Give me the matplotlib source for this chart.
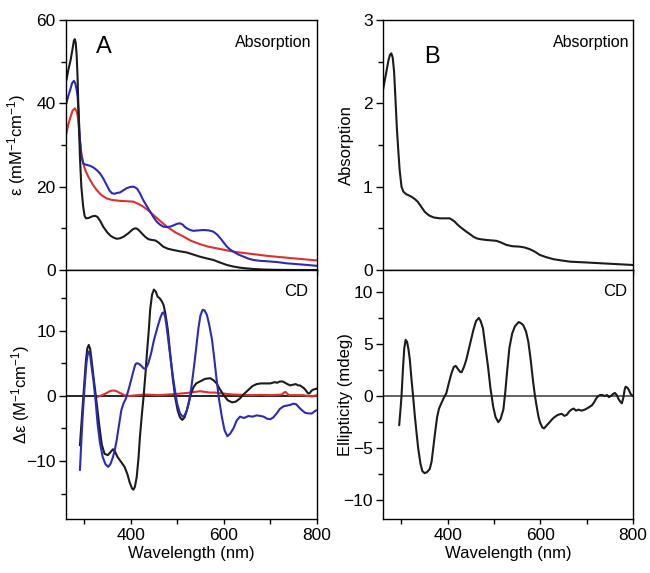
import numpy as np
import matplotlib.pyplot as plt
from matplotlib.ticker import MultipleLocator, FixedLocator

plt.rcParams['font.family'] = ['Liberation Sans', 'DejaVu Sans']
plt.rcParams['mathtext.default'] = 'regular'

# --- Panel A, absorption (epsilon, mM-1 cm-1) ---
wl_abs_black = [262, 266, 271, 275, 278, 280, 282, 284, 286, 288,
                291, 294, 298, 301, 304, 310, 318, 324, 329, 335,
                341, 350, 357, 363, 370, 377, 385, 395, 405, 410,
                414, 419, 424, 431, 438, 446, 453, 460, 470, 480,
                492, 505, 521, 535, 549, 563, 578, 592, 607, 620,
                635, 650, 664, 685, 707, 750, 800]
eps_black = [45.6, 48.0, 50.4, 53.0, 55.0, 55.4, 54.5, 51.5, 46.0, 38.0,
             27.2, 20.0, 15.2, 13.0, 12.4, 12.5, 12.9, 13.0, 12.7, 11.7,
             10.4, 9.0, 8.2, 7.8, 7.5, 7.6, 8.0, 8.8, 9.8, 10.0,
             9.9, 9.4, 8.8, 8.0, 7.4, 7.2, 7.1, 6.6, 5.6, 5.1,
             4.8, 4.5, 4.2, 3.7, 3.2, 2.8, 2.4, 1.8, 1.2, 0.85,
             0.56, 0.38, 0.24, 0.12, 0.05, 0.0, 0.0]

wl_abs_blue = [262, 266, 270, 274, 278, 281, 284, 286, 288, 291,
               294, 298, 303, 313, 320, 327, 334, 341, 348, 355,
               360, 366, 371, 377, 384, 391, 398, 406, 410, 414,
               420, 427, 435, 442, 449, 456, 463, 470, 478, 485,
               492, 500, 506, 512, 516, 521, 528, 535, 545, 557,
               568, 578, 586, 593, 600, 607, 614, 621, 632, 643,
               654, 664, 678, 693, 715, 736, 770, 800]
eps_blue = [40.0, 41.8, 43.2, 44.8, 45.4, 44.8, 43.2, 41.6, 38.0, 31.2,
            27.5, 25.6, 25.3, 25.0, 24.6, 24.0, 23.2, 22.0, 20.5, 19.0,
            18.4, 18.3, 18.5, 18.6, 19.1, 19.6, 19.9, 20.0, 19.8, 19.5,
            18.4, 16.8, 15.3, 14.0, 12.7, 11.6, 10.9, 10.4, 10.3, 10.4,
            10.7, 11.1, 11.2, 10.9, 10.4, 10.0, 9.6, 9.4, 9.5, 9.6,
            9.5, 9.2, 8.5, 7.6, 6.6, 5.6, 4.9, 4.4, 3.7, 3.2,
            2.7, 2.4, 2.2, 2.1, 1.9, 1.6, 1.3, 1.0]

wl_abs_red = [262, 266, 271, 275, 280, 283, 286, 288, 291, 294,
              298, 303, 309, 318, 327, 337, 348, 360, 377, 392,
              406, 416, 427, 438, 449, 463, 478, 495, 514, 530,
              549, 567, 585, 603, 621, 657, 693, 750, 800]
eps_red = [32.8, 35.0, 36.8, 38.2, 38.8, 38.3, 37.2, 35.0, 31.2, 28.0,
           25.6, 23.8, 22.4, 20.6, 19.2, 18.0, 17.2, 16.8, 16.6, 16.5,
           16.4, 15.9, 15.2, 14.3, 13.2, 11.8, 10.4, 9.1, 8.0, 7.0,
           6.2, 5.6, 5.2, 4.8, 4.4, 3.9, 3.4, 2.8, 2.3]

# --- Panel A, CD (delta epsilon, M-1 cm-1) ---
wl_cd_black = [291, 295, 300, 304, 307, 310, 313, 316, 320, 326,
               333, 338, 344, 351, 356, 362, 366, 372, 380, 387,
               393, 398, 403, 406, 409, 413, 417, 420, 424, 428,
               432, 435, 439, 442, 446, 450, 454, 458, 462, 467,
               471, 475, 480, 485, 491, 496, 501, 506, 511, 516,
               521, 526, 530, 535, 541, 549, 560, 571, 578, 585,
               592, 600, 609, 618, 626, 635, 644, 653, 662, 671,
               680, 693, 700, 710, 715, 721, 727, 732, 737, 743,
               749, 755, 760, 764, 768, 772, 776, 779, 782, 785,
               788, 791, 795, 800]
cd_black = [-7.6, -3.5, 1.5, 5.5, 7.3, 7.8, 7.2, 5.5, 3.0, -0.5,
            -4.8, -7.5, -8.9, -9.1, -8.7, -8.2, -8.5, -9.4, -10.2, -10.9,
            -12.0, -13.3, -14.2, -14.4, -14.0, -12.5, -9.5, -6.3, -3.0, 0.0,
            3.5, 6.5, 10.0, 13.2, 15.5, 16.3, 16.0, 15.2, 15.0, 14.5,
            13.9, 12.5, 10.1, 6.5, 2.4, -0.3, -2.2, -3.3, -3.7, -3.3,
            -2.2, -0.7, 0.4, 1.3, 1.9, 2.2, 2.6, 2.7, 2.4, 1.9,
            1.0, 0.1, -0.7, -1.0, -0.9, -0.4, 0.3, 0.9, 1.5, 1.8,
            1.9, 1.9, 1.9, 2.1, 2.0, 2.2, 2.2, 2.0, 1.8, 1.6,
            1.7, 1.8, 1.6, 1.6, 1.4, 1.2, 0.9, 0.6, 0.35, 0.4,
            0.7, 0.9, 1.0, 1.1]

wl_cd_blue = [291, 294, 297, 301, 305, 308, 310, 313, 316, 320,
              325, 329, 334, 340, 346, 352, 357, 362, 366, 370,
              375, 380, 385, 390, 395, 401, 406, 410, 413, 418,
              423, 428, 433, 438, 444, 450, 458, 464, 468, 471,
              474, 477, 480, 485, 491, 496, 500, 506, 512, 516,
              521, 526, 530, 534, 538, 542, 546, 550, 555, 559,
              564, 569, 575, 580, 585, 590, 596, 602, 608, 614,
              621, 628, 635, 644, 653, 662, 671, 680, 686, 693,
              700, 707, 714, 721, 729, 736, 743, 750, 756, 761,
              768, 775, 782, 790, 795, 800]
cd_blue = [-11.4, -7.0, -3.0, 1.4, 5.0, 6.6, 6.8, 6.2, 4.5, 2.4,
           -1.0, -4.3, -7.2, -9.4, -10.5, -10.9, -10.4, -9.4, -8.3, -6.8,
           -4.5, -2.2, -1.1, -0.4, 0.8, 2.4, 3.8, 4.8, 5.0, 4.9,
           4.6, 4.2, 4.2, 5.0, 6.5, 8.5, 10.6, 12.0, 12.7, 12.8,
           12.2, 10.8, 9.1, 6.2, 2.9, 0.5, -1.2, -2.7, -3.2, -3.0,
           -2.2, -0.8, 1.0, 3.2, 5.5, 8.0, 10.5, 12.3, 13.2, 13.1,
           12.4, 10.9, 8.6, 5.6, 2.4, -0.5, -3.2, -5.3, -6.2, -5.8,
           -5.0, -3.8, -3.2, -3.4, -3.1, -3.2, -3.0, -3.1, -3.2, -3.5,
           -3.6, -3.3, -2.7, -2.0, -1.6, -1.5, -1.4, -1.2, -1.3, -1.7,
           -2.2, -2.6, -2.7, -2.7, -2.4, -2.2]

wl_cd_red = [326, 331, 335, 340, 345, 350, 355, 360, 365, 370,
             375, 381, 387, 393, 400, 415, 430, 445, 460, 480,
             500, 515, 528, 538, 549, 560, 570, 581, 592, 606,
             620, 640, 660, 680, 700, 715, 725, 730, 733, 736,
             740, 755, 770, 780, 790, 795, 800]
cd_red = [-0.2, -0.1, 0.0, 0.15, 0.3, 0.5, 0.7, 0.8, 0.8, 0.7,
          0.5, 0.3, 0.1, 0.0, 0.0, 0.1, 0.2, 0.15, 0.1, 0.2,
          0.3, 0.4, 0.5, 0.6, 0.7, 0.6, 0.5, 0.5, 0.4, 0.3,
          0.2, 0.15, 0.1, 0.15, 0.1, 0.15, 0.2, 0.5, 0.6, 0.4,
          0.1, 0.1, 0.1, 0.0, -0.1, 0.0, 0.1]

# --- Panel B, absorption ---
wl_b_abs = [260, 264, 268, 272, 275, 278, 281, 284, 287, 290,
            293, 296, 300, 304, 310, 318, 324, 329, 335, 340,
            345, 350, 356, 361, 370, 383, 395, 404, 410, 415,
            420, 426, 433, 440, 448, 455, 462, 470, 484, 495,
            505, 515, 527, 540, 556, 566, 577, 588, 599, 612,
            628, 645, 664, 700, 750, 800]
absorb_b = [2.16, 2.28, 2.40, 2.52, 2.58, 2.60, 2.55, 2.38, 2.05, 1.70,
            1.44, 1.20, 1.00, 0.94, 0.91, 0.89, 0.87, 0.85, 0.82, 0.78,
            0.74, 0.70, 0.67, 0.65, 0.63, 0.62, 0.62, 0.62, 0.60, 0.58,
            0.55, 0.52, 0.49, 0.46, 0.43, 0.40, 0.38, 0.37, 0.36, 0.355,
            0.35, 0.33, 0.30, 0.285, 0.28, 0.27, 0.25, 0.22, 0.18, 0.155,
            0.13, 0.115, 0.10, 0.09, 0.075, 0.06]

# --- Panel B, CD (ellipticity, mdeg) ---
wl_b_cd = [295, 298, 300, 303, 306, 309, 312, 315, 318, 321,
           325, 329, 332, 336, 341, 345, 350, 355, 361, 365,
           368, 372, 377, 381, 386, 391, 397, 402, 408, 413,
           417, 422, 427, 430, 435, 440, 447, 455, 461, 467,
           471, 476, 481, 487, 492, 498, 503, 509, 514, 520,
           524, 528, 533, 539, 545, 553, 558, 563, 569, 574,
           579, 584, 588, 592, 596, 599, 604, 608, 614, 620,
           626, 631, 638, 646, 652, 657, 662, 667, 672, 677,
           682, 689, 696, 704, 711, 716, 721, 725, 729, 734,
           739, 744, 748, 752, 757, 761, 765, 769, 772, 776,
           779, 782, 784, 788, 791, 795, 800]
ellip_b = [-2.8, -1.2, 0.0, 2.5, 4.6, 5.4, 5.2, 4.5, 3.5, 1.9,
           0.0, -2.0, -3.3, -5.0, -6.5, -7.2, -7.4, -7.3, -7.0, -6.3,
           -5.2, -3.7, -2.0, -1.2, -0.7, -0.2, 0.3, 1.2, 2.2, 2.8,
           2.9, 2.6, 2.3, 2.3, 2.8, 3.5, 4.8, 6.3, 7.2, 7.5,
           7.2, 6.5, 4.8, 2.8, 0.8, -1.0, -2.0, -2.5, -2.2, -1.3,
           0.3, 2.3, 4.6, 6.0, 6.7, 7.1, 7.0, 6.8, 6.2, 5.2,
           3.5, 1.5, 0.1, -1.0, -2.0, -2.5, -3.0, -3.1, -2.8, -2.5,
           -2.2, -2.0, -1.8, -1.7, -1.9, -1.8, -1.5, -1.3, -1.2, -1.4,
           -1.3, -1.4, -1.3, -1.1, -0.9, -0.6, -0.2, 0.0, 0.1, 0.1,
           0.0, 0.1, -0.1, 0.0, 0.2, 0.3, 0.1, -0.3, -0.5, -0.7,
           -0.2, 0.6, 0.9, 0.8, 0.6, 0.2, 0.0]

c_black = '#1c1c1c'
c_blue = '#2b2bb8'
c_red = '#e0302c'
lw = 1.5

fig = plt.figure(figsize=(6.5, 5.73), dpi=100)
ax_a_abs = fig.add_axes([0.1015, 0.5288, 0.3857, 0.4363])
ax_a_cd = fig.add_axes([0.1015, 0.0942, 0.3857, 0.4346])
ax_b_abs = fig.add_axes([0.5892, 0.5288, 0.3846, 0.4363])
ax_b_cd = fig.add_axes([0.5892, 0.0942, 0.3846, 0.4346])

line_kw = dict(lw=lw, solid_joinstyle='round', solid_capstyle='round')

# Panel A
ax_a_abs.plot(wl_abs_red, eps_red, color=c_red, **line_kw)
ax_a_abs.plot(wl_abs_blue, eps_blue, color=c_blue, **line_kw)
ax_a_abs.plot(wl_abs_black, eps_black, color=c_black, **line_kw)
ax_a_abs.set_ylim(0, 60)
ax_a_abs.yaxis.set_major_locator(MultipleLocator(20))
ax_a_abs.yaxis.set_minor_locator(MultipleLocator(10))
ax_a_abs.set_ylabel(r'$\epsilon$ (mM$^{-1}$cm$^{-1}$)', fontsize=12)
ax_a_abs.yaxis.set_label_coords(-0.152, 0.5)

ax_a_cd.axhline(0, color='k', lw=1.2)
ax_a_cd.plot(wl_cd_red, cd_red, color=c_red, **line_kw)
ax_a_cd.plot(wl_cd_black, cd_black, color=c_black, **line_kw)
ax_a_cd.plot(wl_cd_blue, cd_blue, color=c_blue, **line_kw)
ax_a_cd.set_ylim(-18.9, 19.3)
ax_a_cd.yaxis.set_major_locator(MultipleLocator(10))
ax_a_cd.yaxis.set_minor_locator(MultipleLocator(5))
ax_a_cd.set_ylabel(r'$\Delta\epsilon$ (M$^{-1}$cm$^{-1}$)', fontsize=12)
ax_a_cd.yaxis.set_label_coords(-0.135, 0.5)

# Panel B
ax_b_abs.plot(wl_b_abs, absorb_b, color=c_black, **line_kw)
ax_b_abs.set_ylim(0, 3)
ax_b_abs.yaxis.set_major_locator(MultipleLocator(1))
ax_b_abs.yaxis.set_minor_locator(MultipleLocator(0.5))
ax_b_abs.set_ylabel('Absorption', fontsize=12)
ax_b_abs.yaxis.set_label_coords(-0.115, 0.5)

ax_b_cd.axhline(0, color='#555555', lw=1.3)
ax_b_cd.plot(wl_b_cd, ellip_b, color=c_black, **line_kw)
ax_b_cd.set_ylim(-11.8, 12.1)
ax_b_cd.yaxis.set_major_locator(MultipleLocator(5))
ax_b_cd.yaxis.set_minor_locator(MultipleLocator(2.5))
ax_b_cd.set_ylabel('Ellipticity (mdeg)', fontsize=12)
ax_b_cd.yaxis.set_label_coords(-0.118, 0.5)

for ax, xmin in [(ax_a_abs, 261), (ax_a_cd, 261), (ax_b_abs, 260), (ax_b_cd, 260)]:
    ax.set_xlim(xmin, 800)
    ax.xaxis.set_major_locator(FixedLocator([400, 600, 800]))
    ax.xaxis.set_minor_locator(FixedLocator([300, 500, 700]))
    ax.tick_params(axis='x', which='both', direction='out', length=3.5, width=1, labelsize=12.5, pad=3)
    ax.tick_params(axis='y', which='major', direction='out', length=5, width=1, labelsize=12.5, pad=2.5)
    ax.tick_params(axis='y', which='minor', direction='out', length=3.5, width=1)
    for s in ax.spines.values():
        s.set_linewidth(1.0)

for ax in (ax_a_abs, ax_b_abs):
    ax.tick_params(axis='x', labelbottom=False)
for ax in (ax_a_cd, ax_b_cd):
    ax.set_xlabel('Wavelength (nm)', fontsize=12, labelpad=2)

# Annotations
ax_a_abs.text(0.981, 0.94, 'Absorption', transform=ax_a_abs.transAxes, ha='right', va='top', fontsize=11.5)
ax_b_abs.text(0.985, 0.94, 'Absorption', transform=ax_b_abs.transAxes, ha='right', va='top', fontsize=11.5)
ax_a_cd.text(0.965, 0.945, 'CD', transform=ax_a_cd.transAxes, ha='right', va='top', fontsize=12)
ax_b_cd.text(0.976, 0.945, 'CD', transform=ax_b_cd.transAxes, ha='right', va='top', fontsize=12)
ax_a_abs.text(0.152, 0.892, 'A', transform=ax_a_abs.transAxes, ha='center', va='center', fontsize=17)
ax_b_abs.text(0.196, 0.852, 'B', transform=ax_b_abs.transAxes, ha='center', va='center', fontsize=17)

fig.savefig('out.png', dpi=100)
